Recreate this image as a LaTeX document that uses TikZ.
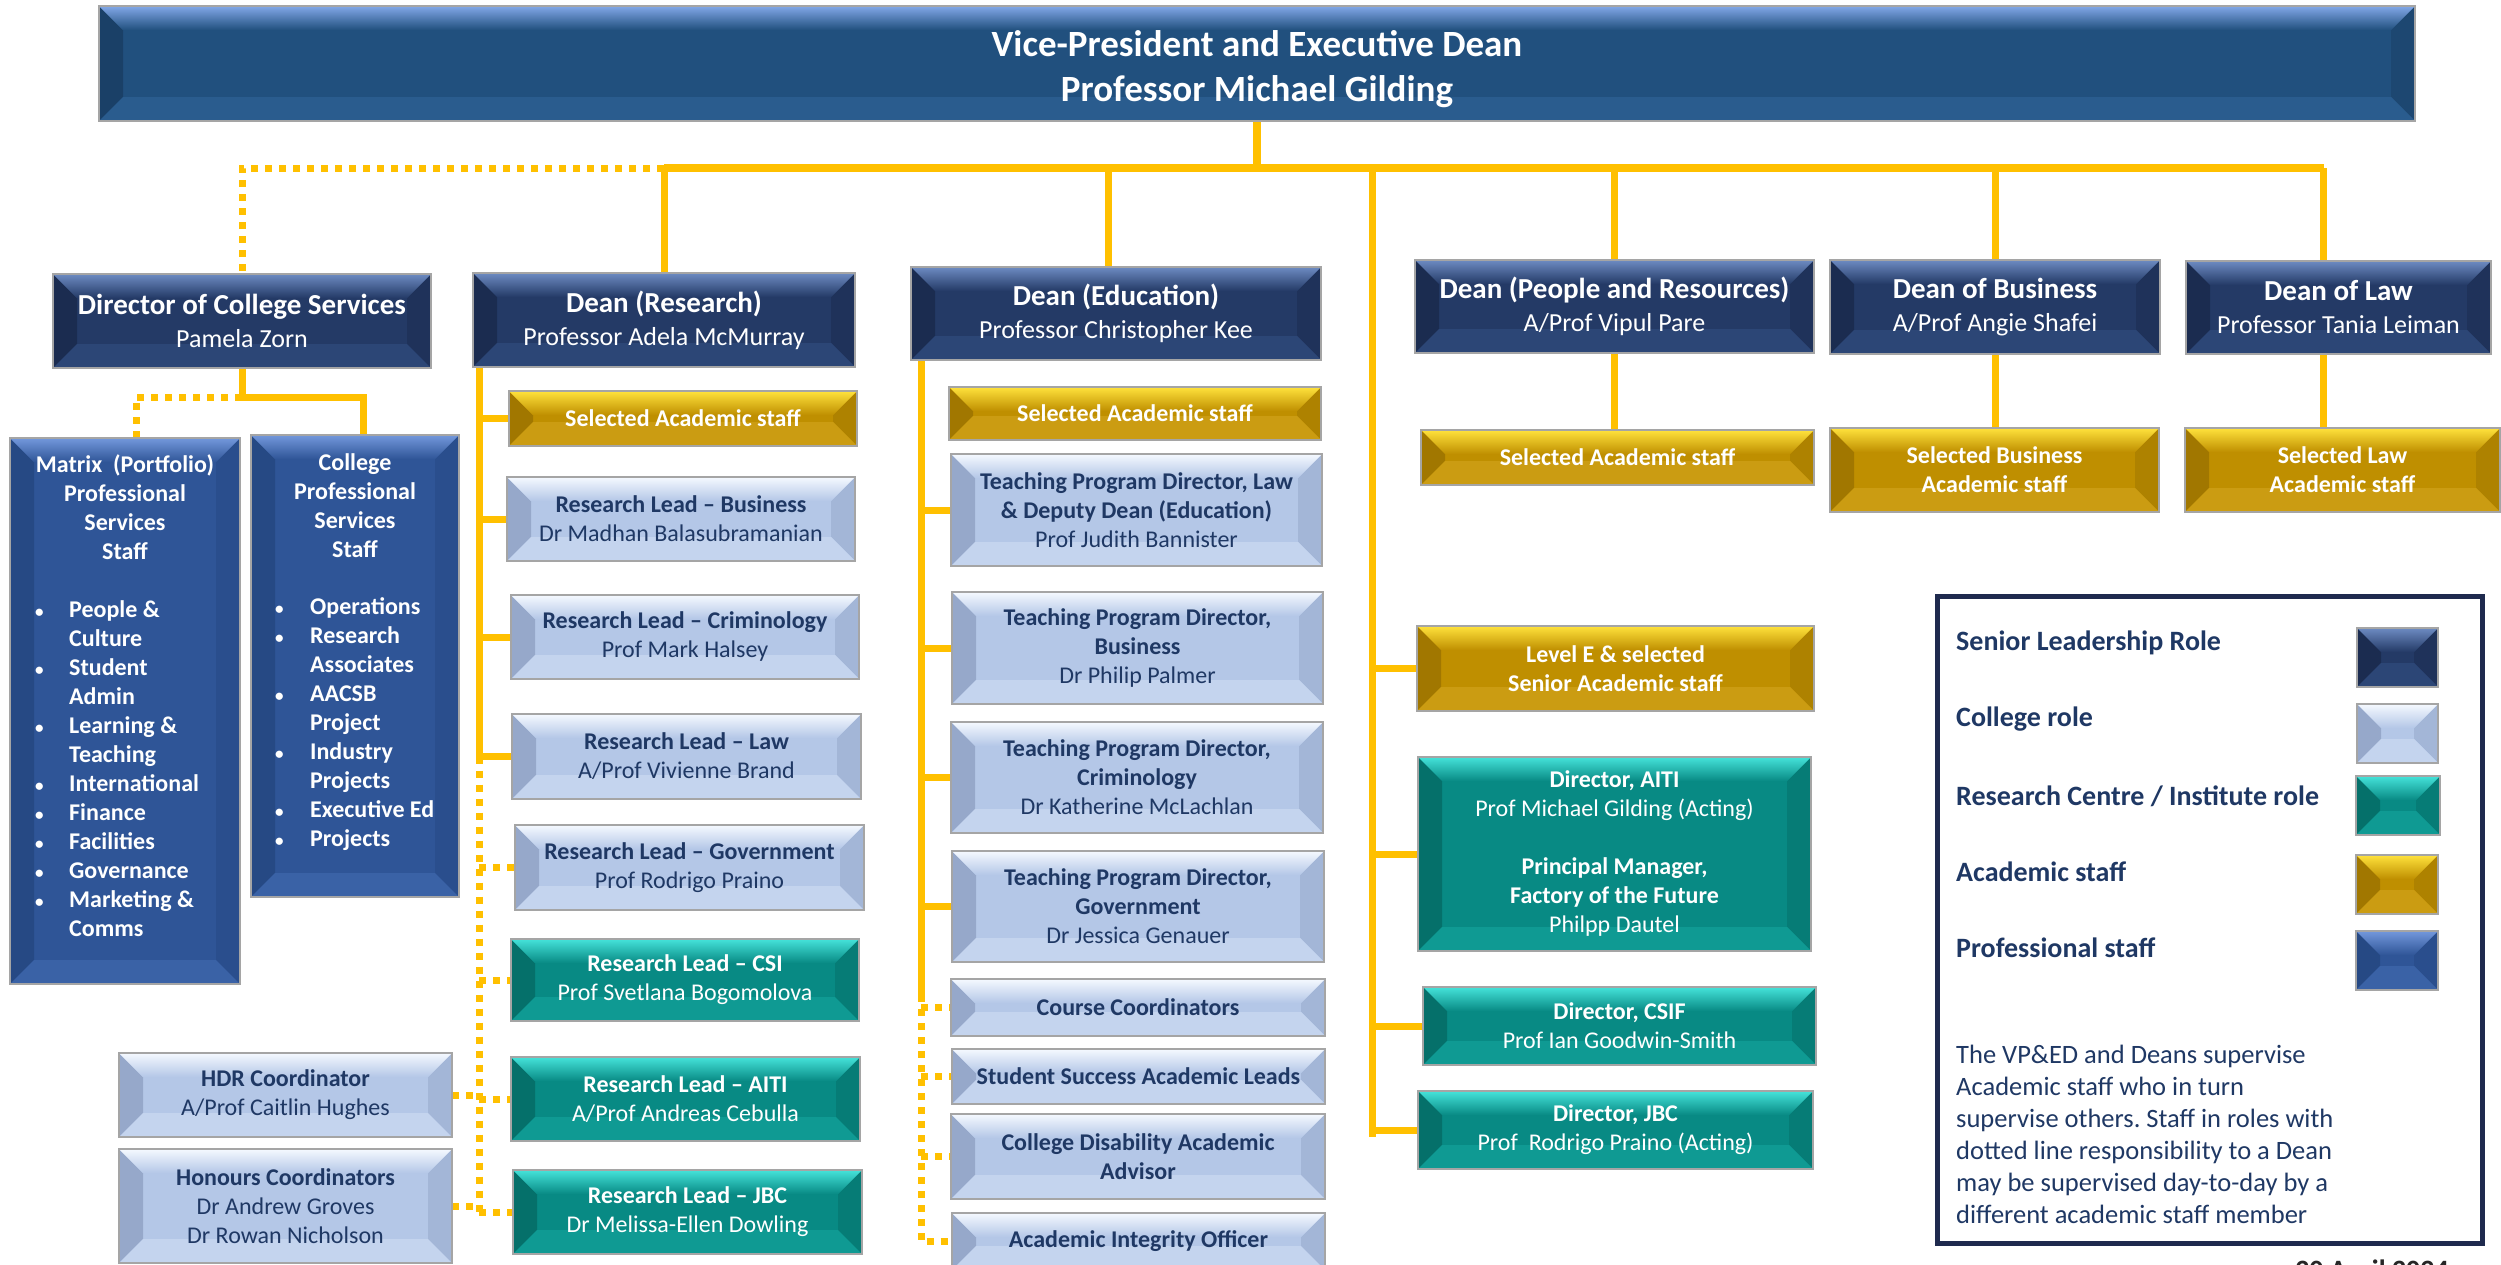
\documentclass[tikz,border=0pt]{standalone}
\usepackage{fontspec}
\setmainfont{Carlito}
\usetikzlibrary{calc}
\pgfdeclarelayer{background}
\pgfsetlayers{background,main}
\frenchspacing

\definecolor{senbase}{HTML}{243A66}
\definecolor{senlight}{HTML}{6D8BC2}
\definecolor{senside}{HTML}{1B2C50}
\definecolor{senbot}{HTML}{2C4676}
\definecolor{vpbase}{HTML}{21507E}
\definecolor{vplight}{HTML}{82A8E8}
\definecolor{vpside}{HTML}{1A4067}
\definecolor{vpbot}{HTML}{2A5C8E}
\definecolor{colbase}{HTML}{B4C7E7}
\definecolor{collight}{HTML}{F5F9FF}
\definecolor{colside}{HTML}{96A8CA}
\definecolor{colbot}{HTML}{C4D4EE}
\definecolor{tealbase}{HTML}{088A84}
\definecolor{teallight}{HTML}{45E3DA}
\definecolor{tealside}{HTML}{05706A}
\definecolor{tealbot}{HTML}{0F9A93}
\definecolor{goldbase}{HTML}{BF8F00}
\definecolor{goldlight}{HTML}{FFE23C}
\definecolor{goldside}{HTML}{A17700}
\definecolor{goldbot}{HTML}{CB9C12}
\definecolor{profbase}{HTML}{2F5597}
\definecolor{proflight}{HTML}{7398DC}
\definecolor{profside}{HTML}{264984}
\definecolor{profbot}{HTML}{3A62A6}
\definecolor{conncol}{HTML}{FFC000}
\definecolor{navytext}{HTML}{1F3864}
\definecolor{edgegray}{HTML}{A5A5A5}
\definecolor{legnavy}{HTML}{1F2A4E}
\definecolor{datecol}{HTML}{262626}

\def\bvl{24pt}
\newcommand\obox[7]{\node[#2, anchor=north west, minimum width={(#5-#3)*1pt}, minimum height={(#6-#4)*1pt}] (#1) at (#3,#4) {#7};}
\newcommand\dtitle[1]{{\fontsize{29}{33}\selectfont\bfseries #1}}
\newcommand\smbul{{\fontsize{17}{29}\selectfont\textbullet}}

\tikzset{
  bevel/.style n args={4}{fill=#1, draw=edgegray, line width=1.3pt, inner sep=0pt, outer sep=0pt,
    path picture={
      \fill[#3] (path picture bounding box.north west) -- ([shift={(\bvl,-\bvl)}]path picture bounding box.north west) -- ([shift={(\bvl,\bvl)}]path picture bounding box.south west) -- (path picture bounding box.south west) -- cycle;
      \fill[#3!55!#1] (path picture bounding box.north east) -- ([shift={(-\bvl,-\bvl)}]path picture bounding box.north east) -- ([shift={(-\bvl,\bvl)}]path picture bounding box.south east) -- (path picture bounding box.south east) -- cycle;
      \fill[#4] (path picture bounding box.south west) -- ([shift={(\bvl,\bvl)}]path picture bounding box.south west) -- ([shift={(-\bvl,\bvl)}]path picture bounding box.south east) -- (path picture bounding box.south east) -- cycle;
      \shade[top color=#2, bottom color=#1] (path picture bounding box.north west) -- (path picture bounding box.north east) -- ([shift={(-\bvl,-\bvl)}]path picture bounding box.north east) -- ([shift={(\bvl,-\bvl)}]path picture bounding box.north west) -- cycle;
    }},
  vpbox/.style={bevel={vpbase}{vplight}{vpside}{vpbot}, text=white, align=center, font=\fontsize{37}{45}\selectfont\bfseries},
  senbox/.style={bevel={senbase}{senlight}{senside}{senbot}, text=white, align=center, font=\fontsize{26}{33}\selectfont},
  colbox/.style={bevel={colbase}{collight}{colside}{colbot}, text=navytext, align=center, font=\fontsize{24}{29}\selectfont},
  tealbox/.style={bevel={tealbase}{teallight}{tealside}{tealbot}, text=white, align=center, font=\fontsize{24}{29}\selectfont},
  goldbox/.style={bevel={goldbase}{goldlight}{goldside}{goldbot}, text=white, align=center, font=\fontsize{24}{29}\selectfont\bfseries},
  profbox/.style={bevel={profbase}{proflight}{profside}{profbot}},
  conn/.style={draw=conncol, line width=7pt},
  busline/.style={draw=conncol, line width=8pt},
  dotl/.style={draw=conncol, line width=7pt, dash pattern=on 7pt off 7pt},
  wlist/.style={inner sep=0pt, text=white, font=\fontsize{24}{29}\selectfont\bfseries},
  legtxt/.style={inner sep=0pt, anchor=west, text=navytext, font=\fontsize{28}{34}\selectfont\bfseries},
}

\begin{document}
\begin{tikzpicture}[x=1pt,y=-1pt]
\useasboundingbox (0,0) rectangle (2501,1264);
\begin{pgfonlayer}{background}
\fill[white] (0,0) rectangle (2501,1264);
\end{pgfonlayer}

% top
\obox{vp}{vpbox}{99}{6}{2415}{121}{\rule{0pt}{38pt}Vice-President and Executive Dean\\Professor Michael Gilding}

% deans row
\obox{dcs}{senbox}{53}{274}{431}{368}{\dtitle{Director of College Services}\\Pamela Zorn}
\obox{dres}{senbox}{473}{273}{855}{367}{\dtitle{Dean (Research)}\\Professor Adela McMurray}
\obox{dedu}{senbox}{911}{267}{1321}{360}{\dtitle{Dean (Education)}\\Professor Christopher Kee}
\obox{dpr}{senbox}{1415}{260}{1814}{353}{\dtitle{Dean (People and Resources)}\\A/Prof Vipul Pare}
\obox{dbus}{senbox}{1830}{260}{2160}{354}{\dtitle{Dean of Business}\\A/Prof Angie Shafei}
\obox{dlaw}{senbox}{2186}{261}{2491}{354}{\dtitle{Dean of Law}\\Professor Tania Leiman}

% professional staff
\obox{matrix}{profbox}{10}{438}{240}{984}{}
\obox{cps}{profbox}{251}{435}{459}{897}{}
\node[wlist, anchor=north] (mathead) at (125,452) {\begin{tabular}{@{}c@{}}Matrix\ \ (Portfolio)\\Professional\\Services\\Staff\end{tabular}};
\node[wlist, anchor=north west] (matlist) at (35,597) {\begin{tabular}{@{}p{34pt}@{}l@{}}\smbul & People \&\\ & Culture\\ \smbul & Student\\ & Admin\\ \smbul & Learning \&\\ & Teaching\\ \smbul & International\\ \smbul & Finance\\ \smbul & Facilities\\ \smbul & Governance\\ \smbul & Marketing \&\\ & Comms\end{tabular}};
\node[wlist, anchor=north] (cpshead) at (355,450) {\begin{tabular}{@{}c@{}}College\\Professional\\Services\\Staff\end{tabular}};
\node[wlist, anchor=north west] (cpslist) at (275,594) {\begin{tabular}{@{}p{35pt}@{}l@{}}\smbul & Operations\\ \smbul & Research\\ & Associates\\ \smbul & AACSB\\ & Project\\ \smbul & Industry\\ & Projects\\ \smbul & Executive Ed\\ \smbul & Projects\end{tabular}};

% coordinators
\obox{hdr}{colbox}{119}{1053}{452}{1137}{\textbf{HDR Coordinator}\\A/Prof Caitlin Hughes}
\obox{hon}{colbox}{119}{1149}{452}{1263}{\textbf{Honours Coordinators}\\Dr Andrew Groves\\Dr Rowan Nicholson}

% research column
\obox{rsel}{goldbox}{509}{391}{857}{446}{Selected Academic staff}
\obox{rlb}{colbox}{507}{477}{855}{561}{\textbf{Research Lead – Business}\\Dr Madhan Balasubramanian}
\obox{rlc}{colbox}{511}{595}{859}{679}{\textbf{Research Lead – Criminology}\\Prof Mark Halsey}
\obox{rll}{colbox}{512}{714}{861}{799}{\textbf{Research Lead – Law}\\A/Prof Vivienne Brand}
\obox{rlg}{colbox}{515}{825}{864}{910}{\textbf{Research Lead – Government}\\Prof Rodrigo Praino}
\obox{rcsi}{tealbox}{511}{939}{859}{1021}{\textbf{Research Lead – CSI}\\Prof Svetlana Bogomolova}
\obox{raiti}{tealbox}{511}{1057}{860}{1141}{\textbf{Research Lead – AITI}\\A/Prof Andreas Cebulla}
\obox{rjbc}{tealbox}{513}{1170}{862}{1254}{\textbf{Research Lead – JBC}\\Dr Melissa-Ellen Dowling}

% education column
\obox{esel}{goldbox}{949}{387}{1321}{440}{Selected Academic staff}
\obox{etl}{colbox}{951}{454}{1322}{566}{\textbf{Teaching Program Director, Law}\\\textbf{\& Deputy Dean (Education)}\\Prof Judith Bannister}
\obox{etb}{colbox}{952}{592}{1323}{704}{\textbf{Teaching Program Director,}\\\textbf{Business}\\Dr Philip Palmer}
\obox{etcr}{colbox}{951}{722}{1323}{833}{\textbf{Teaching Program Director,}\\\textbf{Criminology}\\Dr Katherine McLachlan}
\obox{etg}{colbox}{952}{851}{1324}{962}{\textbf{Teaching Program Director,}\\\textbf{Government}\\Dr Jessica Genauer}
\obox{ecc}{colbox}{951}{979}{1325}{1036}{\textbf{Course Coordinators}}
\obox{ess}{colbox}{952}{1049}{1325}{1104}{\textbf{Student Success Academic Leads}}
\obox{ecd}{colbox}{951}{1114}{1325}{1199}{\textbf{College Disability Academic}\\\textbf{Advisor}}
\obox{eai}{colbox}{952}{1213}{1325}{1270}{\textbf{Academic Integrity Officer}}

% right side
\obox{psel}{goldbox}{1421}{430}{1814}{485}{Selected Academic staff}
\obox{bsel}{goldbox}{1830}{428}{2159}{512}{Selected Business\\Academic staff}
\obox{lsel}{goldbox}{2185}{428}{2500}{512}{Selected Law\\Academic staff}
\obox{lvle}{goldbox}{1417}{626}{1814}{711}{Level E \& selected\\Senior Academic staff}
\obox{daiti}{tealbox}{1418}{757}{1811}{951}{\textbf{Director, AITI}\\Prof Michael Gilding (Acting)\\[29pt]\textbf{Principal Manager,}\\\textbf{Factory of the Future}\\Philpp Dautel}
\obox{dcsif}{tealbox}{1423}{987}{1816}{1065}{\textbf{Director, CSIF}\\Prof Ian Goodwin-Smith}
\obox{djbc}{tealbox}{1418}{1091}{1813}{1169}{\textbf{Director, JBC}\\Prof\ \ Rodrigo Praino (Acting)}

% legend
\obox{legend}{draw=legnavy, line width=5pt, inner sep=0pt}{1935}{594}{2480}{1241}{}
\obox{sw1}{bevel={senbase}{senlight}{senside}{senbot}}{2357}{628}{2438}{687}{}
\obox{sw2}{bevel={colbase}{collight}{colside}{colbot}}{2357}{704}{2438}{763}{}
\obox{sw3}{bevel={tealbase}{teallight}{tealside}{tealbot}}{2356}{776}{2440}{835}{}
\obox{sw4}{bevel={goldbase}{goldlight}{goldside}{goldbot}}{2356}{855}{2438}{914}{}
\obox{sw5}{bevel={profbase}{proflight}{profside}{profbot}}{2356}{931}{2438}{990}{}
\node[legtxt] (lg1) at (1956,643) {Senior Leadership Role};
\node[legtxt] (lg2) at (1956,719) {College role};
\node[legtxt] (lg3) at (1956,796) {Research Centre / Institute role};
\node[legtxt] (lg4) at (1956,872) {Academic staff};
\node[legtxt] (lg5) at (1956,948) {Professional staff};
\node[anchor=north west, inner sep=0pt, text=navytext, font=\fontsize{26.5}{32}\selectfont] (legp) at (1956,1041) {\begin{tabular}{@{}l@{}}The VP\&ED and Deans supervise\\Academic staff who in turn\\supervise others. Staff in roles with\\dotted line responsibility to a Dean\\may be supervised day-to-day by a\\different academic staff member\end{tabular}};

\node[anchor=base, inner sep=0pt, text=datecol, font=\fontsize{28}{34}\selectfont\bfseries] (date) at (2372,1279) {20 April 2024};

% connectors
\begin{pgfonlayer}{background}
\coordinate (bus) at (0,168);
\coordinate (lawc) at ([xshift=-15pt]dlaw.north);
\coordinate (lawcs) at ([xshift=-15pt]dlaw.south);
\coordinate (educ) at ([xshift=-8pt]dedu.north);
\coordinate (rctop) at ([xshift=-45pt]lvle.west |- bus);
\draw[busline] (vp.south) -- (vp.south |- bus);
\draw[busline] (dres.north |- bus) -- (lawc |- bus);
\draw[dotl] (dres.north |- bus) -| (dcs.north);
\draw[conn] (dres.north |- bus) -- (dres.north);
\draw[conn] (educ |- bus) -- (educ);
\draw[conn] (dpr.north |- bus) -- (dpr.north);
\draw[conn] (dbus.north |- bus) -- (dbus.north);
\draw[conn] (lawc |- bus) -- (lawc);
\draw[conn] (dpr.south) -- (dpr.south |- psel.north);
\draw[conn] (dbus.south) -- (dbus.south |- bsel.north);
\draw[conn] (lawcs) -- (lawcs |- lsel.north);
% right column
\draw[conn] (rctop) -- ([yshift=-7pt]rctop |- djbc.west);
\foreach \n in {lvle,daiti,dcsif,djbc} \draw[conn] (rctop |- \n.west) -- (\n.west);
% college services
\coordinate (dcsj) at ([yshift=-29pt]dcs.south);
\coordinate (cpsc) at ([xshift=8pt]cps.north);
\coordinate (matc) at ([xshift=11pt]matrix.north);
\draw[conn] (dcs.south) -- (dcsj) -| (cpsc);
\draw[dotl] (dcsj) -| (matc);
% research column
\coordinate (rv) at ([xshift=6pt]dres.south west);
\draw[conn] (rv) -- (rv |- rll.west);
\foreach \n in {rsel,rlb,rlc,rll} \draw[conn] (rv |- \n.west) -- (\n.west);
\draw[dotl] (rv |- rll.west) -- (rv |- rjbc.west);
\foreach \n in {rlg,rcsi,raiti,rjbc} \draw[dotl] (rv |- \n.west) -- (\n.west);
\draw[dotl] (hdr.east) -- (rv |- hdr.east);
\draw[dotl] (hon.east) -- (rv |- hon.east);
% education column
\coordinate (ev) at ([xshift=10pt]dedu.south west);
\coordinate (e1) at (ev |- ecc.north);
\coordinate (esplit) at ([yshift=-16pt]e1);
\draw[conn] (ev) -- (esplit);
\foreach \n in {etl,etb,etcr,etg} \draw[conn] (ev |- \n.west) -- (\n.west);
\draw[dotl] (esplit) -- (ev |- eai.west) -- (eai.west);
\foreach \n in {ecc,ess,ecd} \draw[dotl] (ev |- \n.west) -- (\n.west);
\end{pgfonlayer}
\end{tikzpicture}
\end{document}
